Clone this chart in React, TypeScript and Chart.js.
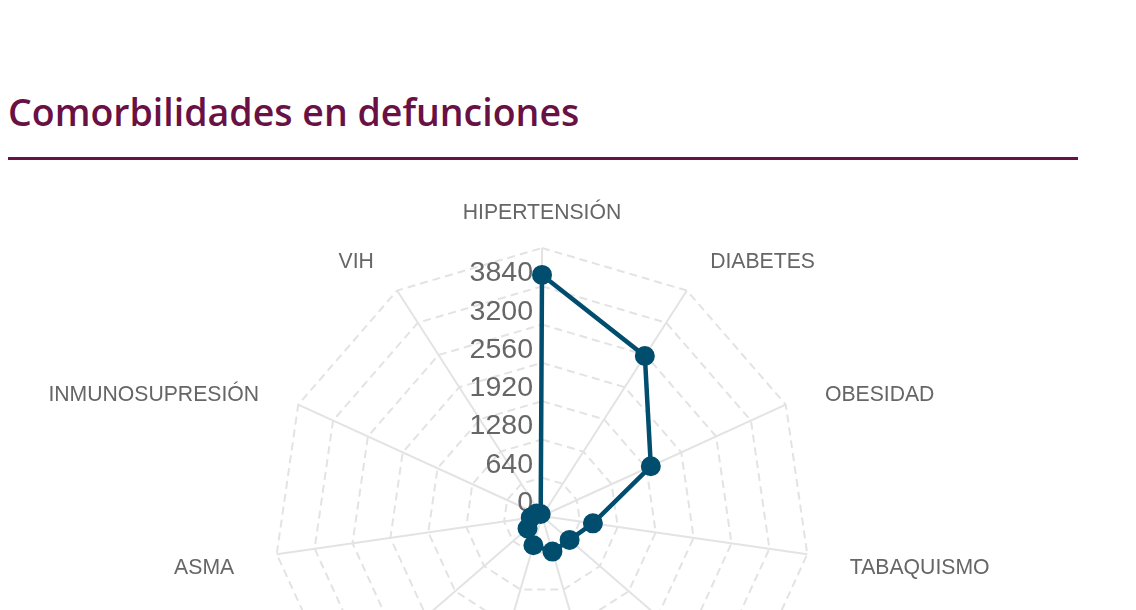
import React, { useEffect, useRef } from "react";
import { Chart, registerables } from "chart.js";

Chart.register(...registerables);

const categories = [
  "HIPERTENSIÓN",
  "DIABETES",
  "OBESIDAD",
  "TABAQUISMO",
  "RENAL CRÓNICA",
  "EPOC",
  "CARDIOVASCULAR",
  "OTRAS",
  "ASMA",
  "INMUNOSUPRESIÓN",
  "VIH",
];
const deaths = [4030, 3180, 2000, 860, 610, 620, 510, 320, 190, 100, 40];
const tickValues = [0, 640, 1280, 1920, 2560, 3200, 3840];
const scaleMax = 4480;
const scaleStep = 640;

const TITLE_COLOR = "#691044";
const LINE_COLOR = "#004d6e";
const GRID_COLOR = "#e3e3e3";
const TEXT_COLOR = "#666666";
const FONT_FAMILY = "'Liberation Sans', Arial, sans-serif";

const labelsPlugin = {
  id: "labelsPlugin",
  beforeDatasetsDraw(chart: any) {
    const scale = chart.scales.r;
    const ctx = chart.ctx;
    ctx.save();
    // point (category) labels
    ctx.font = `21.2px ${FONT_FAMILY}`;
    ctx.fillStyle = TEXT_COLOR;
    ctx.textBaseline = "middle";
    const n = scale._pointLabels.length;
    for (let i = 0; i < n; i++) {
      const a = (i * 2 * Math.PI) / n;
      const s = Math.sin(a);
      const p = scale.getPointPosition(i, scale.drawingArea + 43);
      ctx.textAlign = Math.abs(s) < 0.01 ? "center" : s > 0 ? "left" : "right";
      ctx.fillText(scale._pointLabels[i], p.x, p.y + 8);
    }
    // tick labels
    ctx.font = `28.5px ${FONT_FAMILY}`;
    ctx.textAlign = "right";
    ctx.textBaseline = "alphabetic";
    tickValues.forEach((v) => {
      const r = scale.getDistanceFromCenterForValue(v);
      ctx.fillText(String(v), scale.xCenter - 9, scale.yCenter - r - 5);
    });
    ctx.restore();
  },
};

export default function App() {
  const canvasRef = useRef<HTMLCanvasElement | null>(null);

  useEffect(() => {
    if (!canvasRef.current) return;
    const chart = new Chart(canvasRef.current, {
      type: "radar",
      data: {
        labels: categories,
        datasets: [
          {
            label: "Defunciones",
            data: deaths,
            borderColor: LINE_COLOR,
            backgroundColor: "transparent",
            pointBackgroundColor: LINE_COLOR,
            pointBorderColor: LINE_COLOR,
            borderWidth: 4.5,
            pointRadius: 8,
            pointBorderWidth: 4,
            fill: false,
          },
        ],
      },
      options: {
        animation: false,
        responsive: true,
        maintainAspectRatio: false,
        layout: { padding: { top: 68, bottom: 68, left: 0, right: 0 } },
        plugins: {
          legend: { display: false },
          tooltip: { enabled: false },
        },
        scales: {
          r: {
            min: 0,
            max: scaleMax,
            beginAtZero: true,
            ticks: { stepSize: scaleStep, display: false },
            grid: { color: GRID_COLOR, lineWidth: 2 },
            border: { dash: [8, 5] },
            angleLines: { color: GRID_COLOR, lineWidth: 2 },
            pointLabels: { display: false },
          },
        },
      },
      plugins: [labelsPlugin],
    });
    return () => chart.destroy();
  }, []);

  return (
    <div>
      <div
        style={{
          width: 1070,
          marginTop: 82,
          fontFamily: "'Open Sans', sans-serif",
          fontWeight: 600,
          fontSize: 37.5,
          lineHeight: "44px",
          color: TITLE_COLOR,
          paddingBottom: 23,
          borderBottom: `3px solid ${TITLE_COLOR}`,
        }}
      >
        Comorbilidades en defunciones
      </div>
      <div style={{ position: "relative", width: 1068, height: 672, marginTop: 20 }}>
        <canvas ref={canvasRef} />
      </div>
    </div>
  );
}
